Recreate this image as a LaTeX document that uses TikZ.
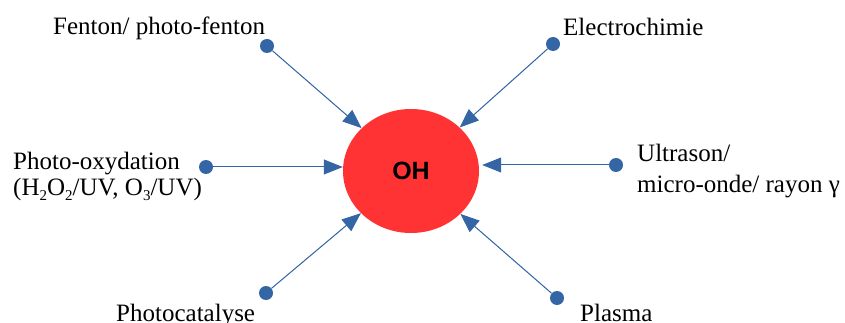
\documentclass[tikz,border=0pt]{standalone}
\usepackage{fontspec}
\setmainfont{Liberation Serif}
\newfontfamily\ohfont{Liberation Sans}
\usetikzlibrary{arrows.meta,shapes.geometric}
\definecolor{dotblue}{HTML}{3465A4}
\definecolor{ohred}{HTML}{FF3333}
\newcommand{\subnum}[1]{{\fontsize{15}{15}\selectfont\raisebox{-5pt}{#1}}}
\begin{document}
\begin{tikzpicture}[x=1pt,y=-1pt,
  dotnode/.style={circle,fill=dotblue,minimum size=14pt,inner sep=0pt},
  conn/.style={draw=dotblue,line width=1pt,-{Triangle[length=19pt,width=15pt]},fill=dotblue},
  lbl/.style={anchor=base west,inner sep=0pt,font=\fontsize{25}{30}\selectfont},
  ohnode/.style={ellipse,fill=ohred,minimum width=136pt,minimum height=124pt,inner sep=0pt,
    font=\ohfont\bfseries\fontsize{25}{30}\selectfont}]
\useasboundingbox (0,0) rectangle (845,323);
\node[ohnode] (oh) at (411,171) {OH};
\node[dotnode] (d1) at (267,46) {};
\node[dotnode] (d2) at (553,44) {};
\node[dotnode] (d3) at (206,167) {};
\node[dotnode] (d4) at (616,165) {};
\node[dotnode] (d5) at (266,293) {};
\node[dotnode] (d6) at (557,298) {};
\foreach \d in {d1,d2,d5,d6} \draw[conn] (\d) -- (oh);
\draw[conn] (d3) -- (d3 -| oh.west);
\draw[conn,shorten >=3pt] (d4) -- (d4 -| oh.east);
\node[lbl] (t1) at (53,35) {Fenton/ photo-fenton};
\node[lbl] (t2) at (563,36) {Electrochimie};
\node[lbl] (t3a) at (13,169) {Photo-oxydation};
\node[lbl] (t3b) at (13,196) {(H\subnum{2}O\subnum{2}/UV, O\subnum{3}/UV)};
\node[lbl] (t4a) at (637,162) {Ultrason/};
\node[lbl] (t4b) at (637,192) {micro-onde/ rayon γ};
\node[lbl] (t5) at (116,321) {Photocatalyse};
\node[lbl] (t6) at (580,321) {Plasma};
\end{tikzpicture}
\end{document}
